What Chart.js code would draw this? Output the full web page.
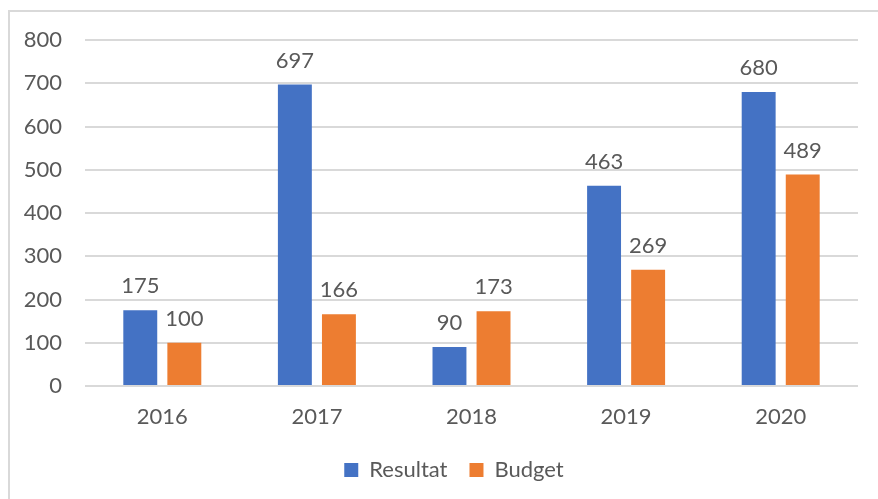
<!DOCTYPE html>
<html>
<head>
<meta charset="utf-8">
<script src="https://cdn.jsdelivr.net/npm/chart.js@4"></script>
<style>
  body { margin: 0; background: #fff; }
  #frame {
    position: absolute; left: 8px; top: 10px;
    width: 880px; height: 500px;
    border: 2px solid #d9d9d9;
  }
  #wrap { position: absolute; left: 0; top: 0; width: 880px; height: 487px; }
</style>
</head>
<body>
<div id="frame"><div id="wrap"><canvas id="chart"></canvas></div></div>
<script>
// years and values
const years = ['2016', '2017', '2018', '2019', '2020'];
const resultat = [175, 697, 90, 463, 680];
const budget = [100, 166, 173, 269, 489];

const textColor = '#595959';
const fontFamily = 'Lato, "Open Sans", sans-serif';

// draw the value above each bar (no datalabels plugin available offline)
const valueLabels = {
    id: 'valueLabels',
    afterDatasetsDraw(chart) {
        const ctx = chart.ctx;
        ctx.save();
        ctx.fillStyle = textColor;
        ctx.font = '22px ' + fontFamily;
        ctx.textAlign = 'center';
        ctx.textBaseline = 'bottom';
        chart.data.datasets.forEach((ds, i) => {
            chart.getDatasetMeta(i).data.forEach((bar, j) => {
                ctx.fillText(ds.data[j], bar.x, bar.y - 13);
            });
        });
        ctx.restore();
    }
};

// legend is centred on the whole frame in the original, not on the plot
const shiftLegend = {
    id: 'shiftLegend',
    afterLayout(chart) {
        chart.legend.left += 20;
        chart.legend.right += 20;
    }
};

new Chart(document.querySelector('#chart').getContext('2d'), {
    type: 'bar',
    data: {
        labels: years,
        datasets: [
            { label: 'Resultat', data: resultat, backgroundColor: '#4472C4' },
            { label: 'Budget', data: budget, backgroundColor: '#ED7D31' }
        ]
    },
    options: {
        responsive: true,
        maintainAspectRatio: false,
        animation: false,
        categoryPercentage: 0.57,
        barPercentage: 0.77,
        layout: { padding: { top: 28, right: 32, bottom: 8, left: 0 } },
        font: { family: fontFamily },
        plugins: {
            tooltip: { enabled: false },
            legend: {
                position: 'bottom',
                labels: {
                    color: textColor,
                    font: { size: 22, family: fontFamily },
                    boxWidth: 14,
                    boxHeight: 14,
                    padding: 22
                }
            }
        },
        scales: {
            x: {
                grid: { display: false },
                border: { display: false },
                ticks: { color: textColor, font: { size: 22, family: fontFamily }, padding: 10 },
                afterFit(scale) { scale.height = 51; }
            },
            y: {
                min: 0,
                max: 800,
                ticks: { stepSize: 100, color: textColor, font: { size: 22, family: fontFamily }, padding: 23 },
                grid: { color: '#d9d9d9', lineWidth: 2, drawTicks: false },
                border: { display: false },
                afterFit(scale) {
                    scale.width = 75;
                    scale.paddingTop = 0;
                    scale.paddingBottom = 0;
                }
            }
        }
    },
    plugins: [valueLabels, shiftLegend]
});
</script>
</body>
</html>
